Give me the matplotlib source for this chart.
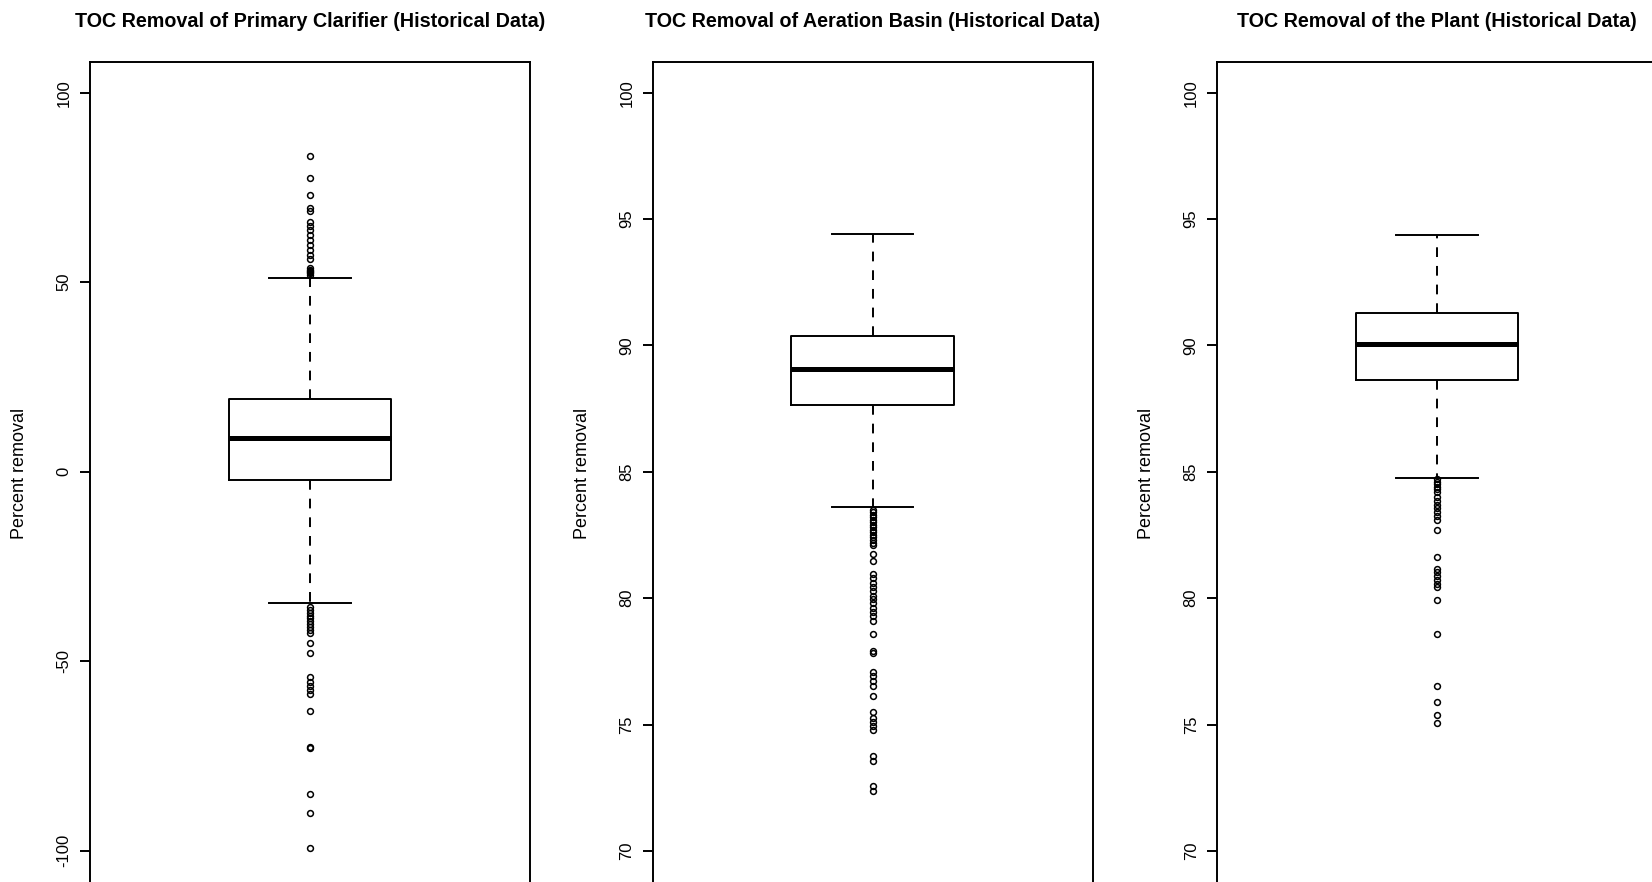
import matplotlib
matplotlib.use("Agg")
import matplotlib.pyplot as plt

plt.rcParams['font.family'] = ['Liberation Sans', 'DejaVu Sans']

# panel titles
titles = ['TOC Removal of Primary Clarifier (Historical Data)',
          'TOC Removal of Aeration Basin (Historical Data)',
          'TOC Removal of the Plant (Historical Data)']

# box statistics
q1 = [-2.2, 87.64, 88.63]
med = [8.8, 89.05, 90.07]
q3 = [19.1, 90.37, 91.27]
whislo = [-34.7, 83.59, 84.74]
whishi = [51.0, 94.41, 94.37]

# outliers
fliers_primary = [83.4, 77.6, 73.0, 69.5, 68.9, 66.0, 64.9, 63.8, 62.5, 61.2,
                  59.8, 58.5, 57.2, 56.1, 53.7, 53.3, 53.0, 52.6, 52.3, 52.0,
                  -35.6, -36.4, -37.2, -38.0, -38.7, -39.5, -40.3, -41.0, -41.8, -42.5,
                  -45.3, -47.7, -54.2, -55.4, -56.5, -57.5, -58.6, -63.1,
                  -72.6, -73.0, -84.9, -90.1, -99.4]
fliers_aeration = [83.5, 83.4, 83.3, 83.2, 83.1, 83.0, 82.9, 82.8, 82.7, 82.6,
                   82.5, 82.4, 82.3, 82.2, 82.1, 81.76, 81.46,
                   80.95, 80.8, 80.6, 80.45, 80.3, 80.1, 79.95, 79.8, 79.6, 79.45,
                   79.3, 79.1, 78.58, 77.92, 77.84, 77.07, 76.91, 76.71, 76.52,
                   76.14, 75.48, 75.26, 75.1, 74.93, 74.77, 73.74, 73.55, 72.58, 72.36]
fliers_plant = [84.7, 84.6, 84.5, 84.4, 84.3, 84.2, 84.0, 83.85, 83.7, 83.55,
                83.4, 83.25, 83.1, 82.68, 81.61, 81.17, 81.04, 80.89, 80.73,
                80.57, 80.43, 79.91, 78.6, 76.54, 75.9, 75.39, 75.07]
fliers = [fliers_primary, fliers_aeration, fliers_plant]

yticks = [[-100, -50, 0, 50, 100], [70, 75, 80, 85, 90, 95, 100], [70, 75, 80, 85, 90, 95, 100]]
ylims = [(-109.3, 108.18), (68.61, 101.227), (68.61, 101.227)]

W, H = 1652, 882
fig = plt.figure(figsize=(W / 100, H / 100), dpi=100)

lefts = [90, 652.7, 1217]
top_px = 61.7
bottom_px = H + 4
lw = 1.4

for i in range(3):
    ax = fig.add_axes([lefts[i] / W, (H - bottom_px) / H, 440 / W, (bottom_px - top_px) / H])
    stats = [dict(med=med[i], q1=q1[i], q3=q3[i], whislo=whislo[i], whishi=whishi[i],
                  fliers=fliers[i])]
    ax.bxp(stats, positions=[1], widths=0.37, showfliers=True,
           boxprops=dict(color='black', linewidth=lw),
           medianprops=dict(color='black', linewidth=3.6, solid_capstyle='butt'),
           whiskerprops=dict(color='black', linewidth=lw, linestyle=(0, (5, 4.6))),
           capprops=dict(color='black', linewidth=lw),
           flierprops=dict(marker='o', markersize=4.2, markerfacecolor='none',
                           markeredgecolor='black', markeredgewidth=1.1, linestyle='none'))
    ax.set_xlim(0.5, 1.5)
    ax.set_ylim(*ylims[i])
    ax.set_xticks([])
    ax.set_yticks(yticks[i])
    ax.set_yticklabels([str(t) for t in yticks[i]], rotation=90, va='center', fontsize=12)
    ax.tick_params(axis='y', length=7.2, width=lw, pad=6, direction='out')
    for s in ax.spines.values():
        s.set_linewidth(lw)
    ax.set_ylabel('Percent removal', fontsize=13)
    ax.yaxis.set_label_coords(-0.14, 0.5)
    ax.set_title(titles[i], fontsize=14.2, fontweight='bold', pad=25)

fig.savefig('out.png', dpi=100)
